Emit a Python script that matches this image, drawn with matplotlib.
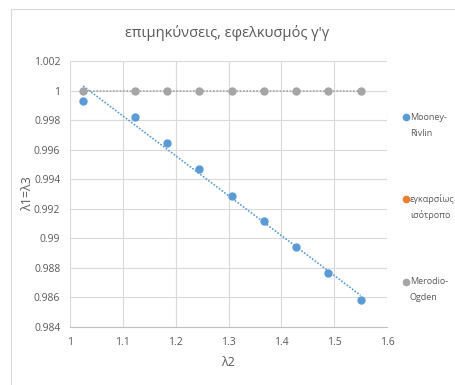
import numpy as np
import matplotlib.pyplot as plt
from matplotlib.ticker import FuncFormatter
from matplotlib.lines import Line2D
from matplotlib.patches import Rectangle

plt.rcParams['font.family'] = ['Open Sans', 'DejaVu Sans']

# data
lam2 = [1.025, 1.1225, 1.184, 1.245, 1.306, 1.367, 1.428, 1.489, 1.55]
mooney = [0.99932, 0.99823, 0.99648, 0.99466, 0.99284, 0.99114, 0.98941, 0.98765, 0.98582]
transverse = [1, 1, 1, 1, 1, 1, 1, 1, 1]
merodio = [1, 1, 1, 1, 1, 1, 1, 1, 1]
labels = [('Mooney-', 'Rivlin'), ('εγκαρσίως', 'ισότροπο'), ('Merodio-', 'Ogden')]
colors = ['#5B9BD5', '#ED7D31', '#A5A5A5']

W, H = 455, 385
fig = plt.figure(figsize=(W / 100, H / 100), dpi=100)
ax = fig.add_axes([70 / W, 1 - 327 / H, 317 / W, 266 / H])

# chart border (top / left visible)
fig.patches.append(Rectangle((11 / W, -0.1), 1.2, 1.1 - 9 / H,
                             transform=fig.transFigure, fill=False,
                             edgecolor='#D9D9D9', linewidth=0.8))

# trend lines
for ys, c in [(mooney, colors[0]), (merodio, colors[2])]:
    k, b = np.polyfit(lam2, ys, 1)
    xs = np.array([lam2[0], lam2[-1]])
    ax.plot(xs, k * xs + b, linestyle=(0, (1, 1)), color=c, linewidth=1.2, zorder=2)

# orange series sits hidden under the grey one
ax.plot(lam2, transverse, 'o', color=colors[1], markersize=3.5, zorder=3)
ax.plot(lam2, merodio, 'o', color=colors[2], markersize=5, zorder=4)
ax.plot(lam2, mooney, 'o', color=colors[0], markersize=5, zorder=4)

ax.set_xlim(1, 1.6)
ax.set_ylim(0.984, 1.002)
ax.set_xticks(np.arange(1, 1.61, 0.1))
ax.set_yticks(np.arange(0.984, 1.0021, 0.002))
ax.yaxis.set_major_formatter(FuncFormatter(lambda v, p: ('%.3f' % v).rstrip('0').rstrip('.')))
ax.xaxis.set_major_formatter(FuncFormatter(lambda v, p: ('%.1f' % v).rstrip('0').rstrip('.')))
ax.grid(True, color='#D9D9D9', linewidth=0.8)
ax.set_axisbelow(True)
for s in ['top', 'right', 'left']:
    ax.spines[s].set_visible(False)
ax.spines['bottom'].set_color('#BFBFBF')
ax.tick_params(length=0, labelsize=7.5, colors='#595959', pad=7)

ax.set_xlabel('λ2', fontsize=9, color='#595959', va='center')
ax.xaxis.set_label_coords(0.5, -(363 - 327) / 266)
ax.set_ylabel('λ1=λ3', fontsize=9, color='#595959', va='center')
ax.yaxis.set_label_coords(-(70 - 28) / 317, 0.5)
fig.text(0.5, 1 - 33 / H, 'επιμηκύνσεις, εφελκυσμός γ\'γ', ha='center', va='center',
         fontsize=10.5, color='#595959')

# legend drawn by hand: marker beside the first line of each label
ys_leg = [117, 199, 282]
for (l1, l2), c, yy in zip(labels, colors, ys_leg):
    fig.add_artist(Line2D([406 / W], [1 - yy / H], marker='o', color=c, markersize=4.5,
                          linestyle='none', transform=fig.transFigure))
    fig.text(410 / W, 1 - yy / H, l1, ha='left', va='center', fontsize=6.5, color='#595959')
    fig.text(410 / W, 1 - (yy + 16) / H, l2, ha='left', va='center', fontsize=6.5,
             color='#595959')

fig.savefig('out.png', dpi=100)
